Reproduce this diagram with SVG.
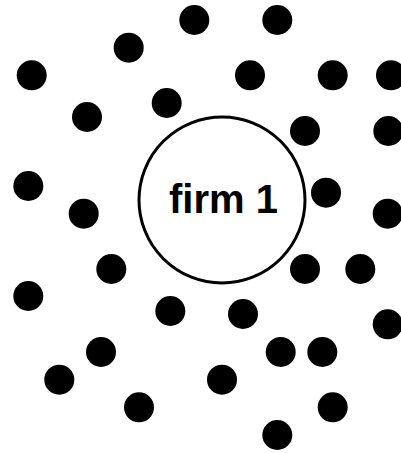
<svg xmlns="http://www.w3.org/2000/svg" width="401" height="453" viewBox="0 0 401 453">
<style>
.dot{fill:#000}
.firm{fill:#fff;stroke:#000;stroke-width:3}
.lbl{font-family:"Liberation Sans",Arial,sans-serif;font-weight:bold;font-size:40px;fill:#000;text-anchor:middle}
</style>
<rect width="401" height="453" fill="#fff"/>
<g id="connectors"></g>
<g id="firm1">
<circle class="firm" cx="222" cy="200" r="83"/>
<text class="lbl" x="223.5" y="212.5">firm 1</text>
</g>
<g id="dots">
<circle class="dot" cx="194.3" cy="20" r="15"/>
<circle class="dot" cx="277.3" cy="20" r="15"/>
<circle class="dot" cx="128.7" cy="47.7" r="15"/>
<circle class="dot" cx="31.7" cy="75.3" r="15"/>
<circle class="dot" cx="250" cy="75.3" r="15"/>
<circle class="dot" cx="332.7" cy="75.3" r="15"/>
<circle class="dot" cx="391" cy="75.3" r="15"/>
<circle class="dot" cx="87" cy="117" r="15"/>
<circle class="dot" cx="166.7" cy="103" r="15"/>
<circle class="dot" cx="305" cy="131" r="15"/>
<circle class="dot" cx="388.3" cy="131" r="15"/>
<circle class="dot" cx="28.3" cy="186" r="15"/>
<circle class="dot" cx="83.7" cy="213.7" r="15"/>
<circle class="dot" cx="326" cy="192.7" r="15"/>
<circle class="dot" cx="387.7" cy="213.7" r="15"/>
<circle class="dot" cx="111.3" cy="269" r="15"/>
<circle class="dot" cx="305" cy="269" r="15"/>
<circle class="dot" cx="360.3" cy="269" r="15"/>
<circle class="dot" cx="28.3" cy="296" r="15"/>
<circle class="dot" cx="170.3" cy="311" r="15"/>
<circle class="dot" cx="243" cy="314" r="15"/>
<circle class="dot" cx="387.7" cy="324.3" r="15"/>
<circle class="dot" cx="101" cy="352" r="15"/>
<circle class="dot" cx="280.7" cy="352" r="15"/>
<circle class="dot" cx="322.3" cy="352" r="15"/>
<circle class="dot" cx="59.3" cy="379.7" r="15"/>
<circle class="dot" cx="222" cy="379.7" r="15"/>
<circle class="dot" cx="139" cy="407.3" r="15"/>
<circle class="dot" cx="332.7" cy="407.3" r="15"/>
<circle class="dot" cx="277.3" cy="435" r="15"/>
</g>
</svg>
